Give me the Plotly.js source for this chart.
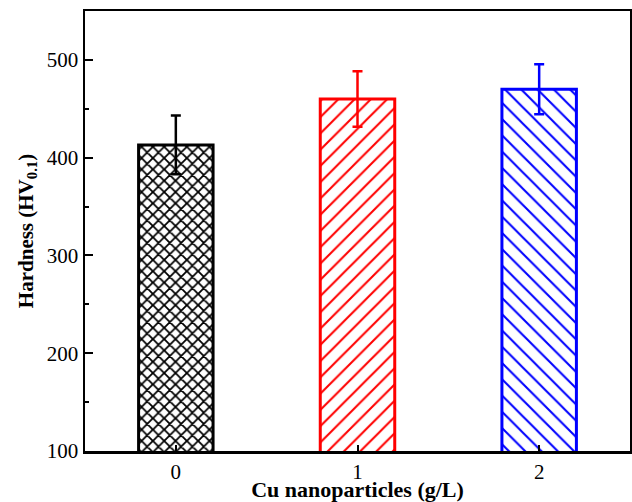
<!DOCTYPE html>
<html>
<head>
<meta charset="utf-8">
<script src="https://cdn.plot.ly/plotly-3.0.1.min.js"></script>
<style>html,body{margin:0;padding:0;background:#fff;}#chart{width:632px;height:502px;}</style>
</head>
<body>
<div id="chart"></div>
<script>
const categories = ['0', '1', '2'];
const hardness = [413, 460, 470];
const errors = [30, 28.5, 25.5];
const colors = ['#000000', '#ff0000', '#0000ff'];
const patterns = ['x', '/', '\\'];
const patternSizes = [8, 11.5, 11.5];
const patternSolidity = [0.4, 0.18, 0.18];

const traces = categories.map((c, i) => ({
  type: 'bar',
  x: [c],
  y: [hardness[i]],
  width: 0.41,
  showlegend: false,
  marker: {
    color: '#ffffff',
    line: {color: colors[i], width: 3},
    pattern: {shape: patterns[i], fgcolor: colors[i], bgcolor: '#ffffff', size: patternSizes[i], solidity: patternSolidity[i]}
  },
  error_y: {type: 'data', array: [errors[i]], visible: true, color: colors[i], thickness: 2.5, width: 5}
}));

const layout = {
  width: 632, height: 502,
  margin: {l: 85, r: 2, t: 11, b: 51},
  paper_bgcolor: '#ffffff', plot_bgcolor: '#ffffff',
  barmode: 'overlay',
  font: {family: '"Liberation Serif", "Times New Roman", serif', color: '#000'},
  xaxis: {
    type: 'category', range: [-0.5, 2.5],
    showline: true, linecolor: '#000', linewidth: 2.5, mirror: true,
    ticks: 'inside', ticklen: 6, tickwidth: 2, tickcolor: '#000',
    showgrid: false, zeroline: false,
    tickfont: {size: 21},
    title: {text: '<b>Cu nanoparticles (g/L)</b>', font: {size: 22}, standoff: 1}
  },
  yaxis: {
    range: [100, 550], dtick: 100, tick0: 100,
    showline: true, linecolor: '#000', linewidth: 2.5, mirror: true,
    ticks: 'inside', ticklen: 8, tickwidth: 2, tickcolor: '#000',
    minor: {dtick: 50, tick0: 100, ticks: 'inside', ticklen: 4, tickwidth: 2, tickcolor: '#000', showgrid: false},
    showgrid: false, zeroline: false,
    tickfont: {size: 21},
    title: {text: '<b>Hardness (HV<sub>0.1</sub>)</b>', font: {size: 21}, standoff: 8}
  }
};

Plotly.newPlot('chart', traces, layout, {displayModeBar: false, staticPlot: true});
</script>
</body>
</html>
